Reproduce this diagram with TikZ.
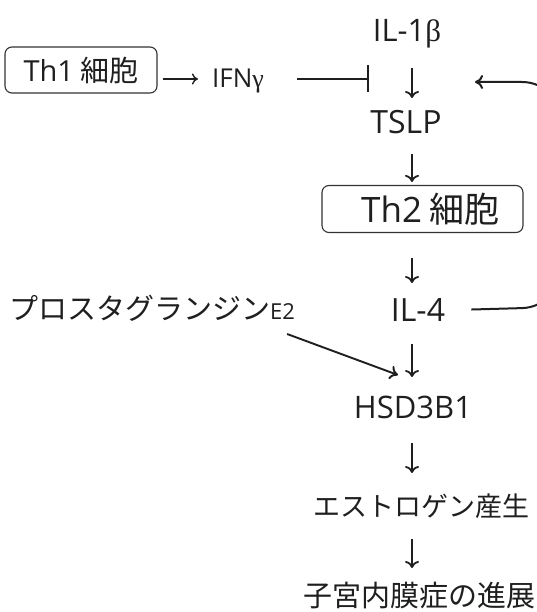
\documentclass[tikz,border=0pt]{standalone}
\usepackage{fontspec}
\setmainfont{Noto Sans CJK JP}
\newfontfamily\lat{Open Sans}
\newfontfamily\grk{Liberation Serif}
\usetikzlibrary{arrows.meta}
\newcommand{\fs}[1]{\fontsize{#1}{#1}\selectfont}
\begin{document}
\begin{tikzpicture}[x=1pt,y=-1pt,
  lbl/.style={inner sep=0pt, anchor=base, text=black!88},
  boxn/.style={draw=black!80, rounded corners=7pt, line width=1.1pt, inner sep=0pt, minimum height=47pt, text=black!88},
  varr/.style={draw=black!88, line width=1.8pt, -{To[length=7pt,width=14pt]}},
  sarr/.style={draw=black!88, line width=1.4pt, -{To[length=6pt,width=11pt]}},
  darr/.style={draw=black!88, line width=1.9pt, -{To[length=8pt,width=14pt]}},
  inh/.style={draw=black!88, line width=2pt, -{Bar[width=27pt]}},
  fbarr/.style={draw=black!88, line width=2pt, rounded corners=40pt, -{To[length=8pt,width=14pt]}}]
\useasboundingbox (0,0) rectangle (537,612);
\clip (0,0) rectangle (537,612);
\fill[white] (0,0) rectangle (537,612);

\coordinate (ax) at (412,0);
\coordinate (inhend) at (369,79);
\coordinate (pgtip) at (398,375);
\coordinate (fbend) at (475,82);

\node[lbl, font=\lat\fs{31}] (il1b) at (407,42) {IL-1{\grk β}};
\node[lbl, font=\lat\fs{32}] (tslp) at (406,134) {TSLP};
\node[boxn, minimum width=201pt, font=\fs{35}] (th2) at (422.5,209) {\hspace{16pt}{\lat Th2} 細胞};
\node[lbl, font=\lat\fs{32}] (il4) at (418,321) {IL-4};
\node[lbl, font=\lat\fs{31}] (hsd) at (413,418) {HSD3B1};
\node[lbl, font=\fs{27}] (estr) at (421,516) {エストロゲン産生};
\node[lbl, font=\fs{29}] (endo) at (419,606) {子宮内膜症の進展};
\node[boxn, minimum width=152pt, minimum height=46pt, font=\fs{29}] (th1) at (81,70) {{\lat Th1} 細胞};
\node[lbl, font=\lat\fs{26}] (ifng) at (238,88) {IFN{\grk γ}};
\node[lbl, font=\fs{29}] (prost) at (152,319) {プロスタグランジン{\lat\fs{22}E2}};

\draw[varr, shorten <=26pt, shorten >=36pt] (il1b.base -| ax) -- (tslp.base -| ax);
\draw[varr, shorten <=20pt, shorten >=3pt] (tslp.base -| ax) -- (th2.north -| ax);
\draw[varr, shorten <=25pt, shorten >=38pt] (th2.south -| ax) -- (il4.base -| ax);
\draw[varr, shorten <=23pt, shorten >=41pt] (il4.base -| ax) -- (hsd.base -| ax);
\draw[varr, shorten <=25pt, shorten >=43pt] (hsd.base -| ax) -- (estr.base -| ax);
\draw[varr, shorten <=23pt, shorten >=38pt] (estr.base -| ax) -- (endo.base -| ax);

\draw[sarr, shorten <=5pt, shorten >=14pt] (th1.east |- inhend) -- (ifng.west |- inhend);
\draw[inh, shorten <=33pt] (ifng.east |- inhend) -- (inhend);
\draw[darr] ([shift={(-8,15)}]prost.base east) -- (pgtip);
\draw[fbarr] ([xshift=26pt]il4.east) -- (562,307) -- (562,82) -- (fbend);
\end{tikzpicture}
\end{document}
